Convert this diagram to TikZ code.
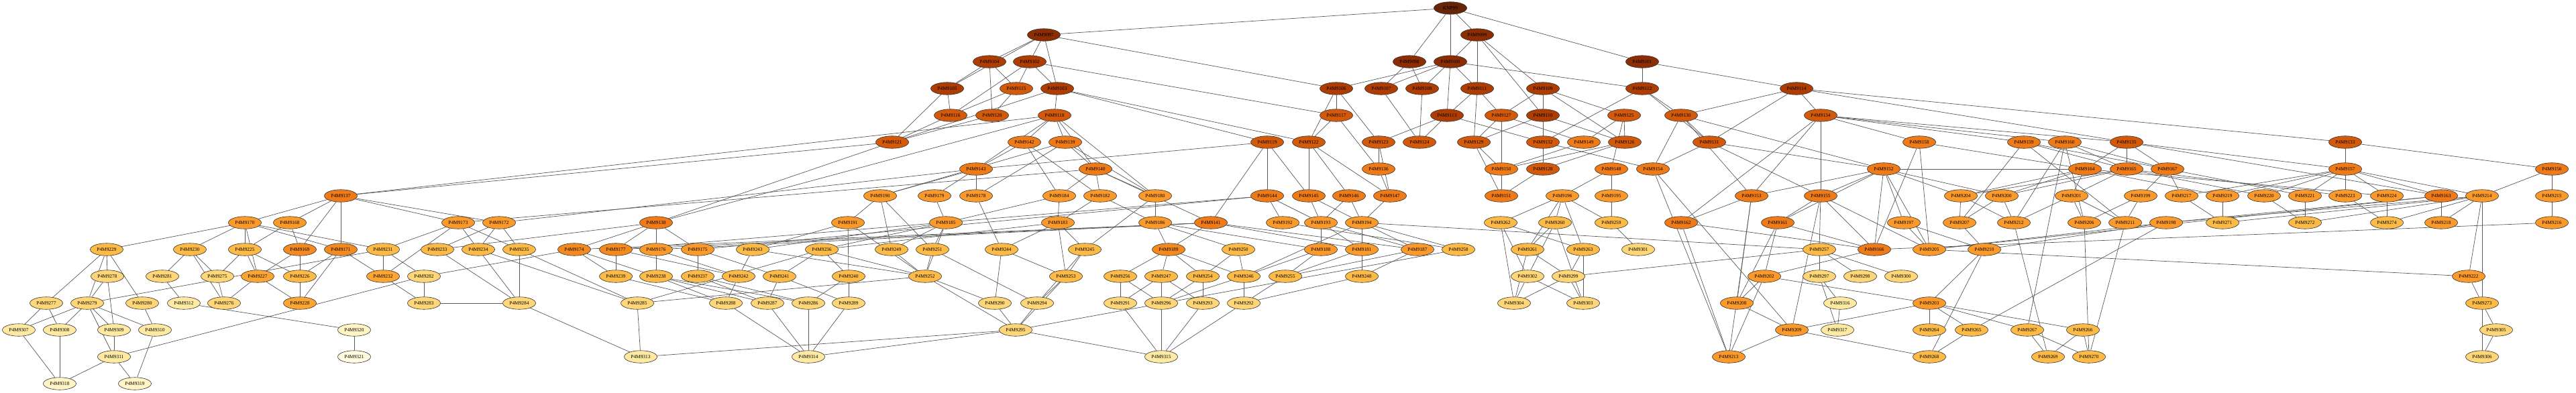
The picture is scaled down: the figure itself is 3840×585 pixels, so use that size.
\documentclass[tikz,border=0pt]{standalone}
\usepackage{fontspec}
\setmainfont{Liberation Serif}
\usepackage{tikz}
\usetikzlibrary{shapes.geometric, backgrounds}

\definecolor{c0}{HTML}{662506}
\definecolor{c1}{HTML}{8C2D04}
\definecolor{c2}{HTML}{AE3D03}
\definecolor{c3}{HTML}{D45A0B}
\definecolor{c4}{HTML}{EE7A18}
\definecolor{c5}{HTML}{FB9A2B}
\definecolor{c5d}{HTML}{F38A20}
\definecolor{c6}{HTML}{FDBA47}
\definecolor{c6d}{HTML}{FCA533}
\definecolor{c7}{HTML}{FED577}
\definecolor{c8}{HTML}{FEE9A3}
\definecolor{c9}{HTML}{FFF5C4}
\definecolor{c9l}{HTML}{FFFCDD}

\begin{document}
\begin{tikzpicture}[x=0.2mm, y=-0.2mm]
        \tikzstyle{pnode} = [ellipse, draw=black!80, line width=0.35pt, minimum width=9.8mm, minimum height=3.7mm, inner sep=0pt, font=\fontsize{4.2}{5}\selectfont]
        \tikzstyle{gen0} = [pnode, fill=c0]
        \tikzstyle{gen1} = [pnode, fill=c1]
        \tikzstyle{gen2} = [pnode, fill=c2]
        \tikzstyle{gen3} = [pnode, fill=c3]
        \tikzstyle{gen4} = [pnode, fill=c4]
        \tikzstyle{gen5} = [pnode, fill=c5]
        \tikzstyle{gen5d} = [pnode, fill=c5d]
        \tikzstyle{gen6} = [pnode, fill=c6]
        \tikzstyle{gen6d} = [pnode, fill=c6d]
        \tikzstyle{gen7} = [pnode, fill=c7]
        \tikzstyle{gen8} = [pnode, fill=c8]
        \tikzstyle{gen9} = [pnode, fill=c9]
        \tikzstyle{link} = [draw=black!65, line width=0.4pt]

        \useasboundingbox (0,0) rectangle (3840,585);

        \node (knp99) [gen0] at (2162,12) {KNP99};

        \node (p9097) [gen1] at (1556,52) {P4M9097};
        \node (p9099) [gen1] at (2202,52) {P4M9099};

        \node (p9104) [gen2] at (1475,92) {P4M9104};
        \node (p9102) [gen2] at (1535,92) {P4M9102};
        \node (p9098) [gen1] at (2101,92) {P4M9098};
        \node (p9100) [gen1] at (2162,92) {P4M9100};
        \node (p9101) [gen1] at (2448,92) {P4M9101};

        \node (p9105) [gen2] at (1412,132) {P4M9105};
        \node (p9115) [gen3] at (1515,132) {P4M9115};
        \node (p9103) [gen2] at (1576,132) {P4M9103};
        \node (p9106) [gen2] at (1992,132) {P4M9106};
        \node (p9107) [gen2] at (2059,132) {P4M9107};
        \node (p9108) [gen2] at (2120,132) {P4M9108};
        \node (p9111) [gen2] at (2202,132) {P4M9111};
        \node (p9109) [gen2] at (2300,132) {P4M9109};
        \node (p9112) [gen2] at (2448,132) {P4M9112};
        \node (p9114) [gen2] at (2678,132) {P4M9114};

        \node (p9116) [gen3] at (1417,172) {P4M9116};
        \node (p9120) [gen3] at (1479,172) {P4M9120};
        \node (p9118) [gen3] at (1572,172) {P4M9118};
        \node (p9117) [gen3] at (1992,172) {P4M9117};
        \node (p9113) [gen2] at (2157,172) {P4M9113};
        \node (p9127) [gen3] at (2238,172) {P4M9127};
        \node (p9110) [gen2] at (2300,172) {P4M9110};
        \node (p9125) [gen3] at (2421,172) {P4M9125};
        \node (p9130) [gen3] at (2506,172) {P4M9130};
        \node (p9134) [gen3] at (2714,172) {P4M9134};

        \node (p9121) [gen3] at (1330,212) {P4M9121};
        \node (p9142) [gen4] at (1527,212) {P4M9142};
        \node (p9139) [gen4] at (1588,212) {P4M9139};
        \node (p9119) [gen3] at (1889,212) {P4M9119};
        \node (p9122) [gen3] at (1951,212) {P4M9122};
        \node (p9123) [gen3] at (2055,212) {P4M9123};
        \node (p9124) [gen3] at (2116,212) {P4M9124};
        \node (p9129) [gen3] at (2197,212) {P4M9129};
        \node (p9132) [gen3] at (2300,212) {P4M9132};
        \node (p9149) [gen4] at (2361,212) {P4M9149};
        \node (p9126) [gen3] at (2422,212) {P4M9126};
        \node (p9131) [gen3] at (2548,212) {P4M9131};
        \node (p9158) [gen4] at (2861,212) {P4M9158};
        \node (p9159) [gen4] at (3017,212) {P4M9159};
        \node (p9160) [gen4] at (3078,212) {P4M9160};
        \node (p9135) [gen3] at (3170,212) {P4M9135};
        \node (p9133) [gen3] at (3496,212) {P4M9133};

        \node (p9143) [gen4] at (1455,252) {P4M9143};
        \node (p9140) [gen4] at (1633,252) {P4M9140};
        \node (p9136) [gen4] at (2055,252) {P4M9136};
        \node (p9150) [gen4] at (2238,252) {P4M9150};
        \node (p9128) [gen3] at (2300,252) {P4M9128};
        \node (p9148) [gen4] at (2402,252) {P4M9148};
        \node (p9154) [gen4] at (2464,252) {P4M9154};
        \node (p9152) [gen4] at (2808,252) {P4M9152};
        \node (p9164) [gen4] at (3108,252) {P4M9164};
        \node (p9165) [gen4] at (3170,252) {P4M9165};
        \node (p9167) [gen4] at (3231,252) {P4M9167};
        \node (p9157) [gen4] at (3496,252) {P4M9157};
        \node (p9156) [gen4] at (3804,252) {P4M9156};

        \node (p9137) [gen4] at (508,292) {P4M9137};
        \node (p9190) [gen5] at (1312,292) {P4M9190};
        \node (p9179) [gen5] at (1393,292) {P4M9179};
        \node (p9178) [gen5] at (1455,292) {P4M9178};
        \node (p9184) [gen5] at (1579,292) {P4M9184};
        \node (p9182) [gen5] at (1640,292) {P4M9182};
        \node (p9180) [gen5] at (1722,292) {P4M9180};
        \node (p9144) [gen4] at (1889,292) {P4M9144};
        \node (p9145) [gen4] at (1951,292) {P4M9145};
        \node (p9146) [gen4] at (2011,292) {P4M9146};
        \node (p9147) [gen4] at (2072,292) {P4M9147};
        \node (p9151) [gen4] at (2238,292) {P4M9151};
        \node (p9196) [gen5] at (2329,292) {P4M9196};
        \node (p9195) [gen5] at (2402,292) {P4M9195};
        \node (p9153) [gen4] at (2611,292) {P4M9153};
        \node (p9155) [gen4] at (2714,292) {P4M9155};
        \node (p9204) [gen5] at (2923,292) {P4M9204};
        \node (p9200) [gen5] at (2984,292) {P4M9200};
        \node (p9201) [gen5] at (3088,292) {P4M9201};
        \node (p9199) [gen5] at (3191,292) {P4M9199};
        \node (p9217) [gen5] at (3252,292) {P4M9217};
        \node (p9219) [gen5] at (3313,292) {P4M9219};
        \node (p9220) [gen5] at (3375,292) {P4M9220};
        \node (p9221) [gen5] at (3436,292) {P4M9221};
        \node (p9223) [gen5] at (3496,292) {P4M9223};
        \node (p9224) [gen5] at (3558,292) {P4M9224};
        \node (p9163) [gen4] at (3639,292) {P4M9163};
        \node (p9214) [gen5] at (3700,292) {P4M9214};
        \node (p9215) [gen5] at (3804,292) {P4M9215};

        \node (p9170) [gen5] at (365,332) {P4M9170};
        \node (p9168) [gen5] at (432,332) {P4M9168};
        \node (p9173) [gen5] at (683,332) {P4M9173};
        \node (p9172) [gen5] at (744,332) {P4M9172};
        \node (p9138) [gen4] at (978,332) {P4M9138};
        \node (p9191) [gen5] at (1264,332) {P4M9191};
        \node (p9185) [gen5] at (1410,332) {P4M9185};
        \node (p9183) [gen5] at (1577,332) {P4M9183};
        \node (p9186) [gen5] at (1722,332) {P4M9186};
        \node (p9141) [gen4] at (1805,332) {P4M9141};
        \node (p9192) [gen5] at (1912,332) {P4M9192};
        \node (p9193) [gen5] at (1969,332) {P4M9193};
        \node (p9194) [gen5] at (2030,332) {P4M9194};
        \node (p9262) [gen6] at (2237,332) {P4M9262};
        \node (p9260) [gen6] at (2318,332) {P4M9260};
        \node (p9259) [gen6] at (2402,332) {P4M9259};
        \node (p9162) [gen4] at (2506,332) {P4M9162};
        \node (p9161) [gen4] at (2650,332) {P4M9161};
        \node (p9197) [gen5] at (2838,332) {P4M9197};
        \node (p9207) [gen5] at (2921,332) {P4M9207};
        \node (p9212) [gen5] at (3002,332) {P4M9212};
        \node (p9206) [gen5] at (3107,332) {P4M9206};
        \node (p9211) [gen5] at (3168,332) {P4M9211};
        \node (p9198) [gen5] at (3229,332) {P4M9198};
        \node (p9271) [gen6] at (3313,332) {P4M9271};
        \node (p9272) [gen6] at (3436,332) {P4M9272};
        \node (p9274) [gen6] at (3558,332) {P4M9274};
        \node (p9218) [gen5] at (3639,332) {P4M9218};
        \node (p9216) [gen5] at (3804,332) {P4M9216};

        \node (p9229) [gen6] at (159,372) {P4M9229};
        \node (p9230) [gen6] at (283,372) {P4M9230};
        \node (p9225) [gen6] at (365,372) {P4M9225};
        \node (p9169) [gen5d] at (447,372) {P4M9169};
        \node (p9171) [gen5d] at (508,372) {P4M9171};
        \node (p9231) [gen6] at (571,372) {P4M9231};
        \node (p9233) [gen6] at (652,372) {P4M9233};
        \node (p9234) [gen6] at (713,372) {P4M9234};
        \node (p9235) [gen6] at (774,372) {P4M9235};
        \node (p9174) [gen5d] at (856,372) {P4M9174};
        \node (p9177) [gen5d] at (918,372) {P4M9177};
        \node (p9176) [gen5] at (978,372) {P4M9176};
        \node (p9175) [gen5] at (1040,372) {P4M9175};
        \node (p9243) [gen6] at (1122,372) {P4M9243};
        \node (p9236) [gen6] at (1225,372) {P4M9236};
        \node (p9249) [gen6] at (1329,372) {P4M9249};
        \node (p9251) [gen6] at (1390,372) {P4M9251};
        \node (p9244) [gen6] at (1493,372) {P4M9244};
        \node (p9245) [gen6] at (1617,372) {P4M9245};
        \node (p9189) [gen5d] at (1742,372) {P4M9189};
        \node (p9250) [gen6] at (1846,372) {P4M9250};
        \node (p9188) [gen5] at (1969,372) {P4M9188};
        \node (p9181) [gen5] at (2030,372) {P4M9181};
        \node (p9187) [gen5] at (2113,372) {P4M9187};
        \node (p9258) [gen6] at (2174,372) {P4M9258};
        \node (p9261) [gen6] at (2277,372) {P4M9261};
        \node (p9263) [gen6] at (2360,372) {P4M9263};
        \node (p9301) [gen7] at (2442,372) {P4M9301};
        \node (p9257) [gen6] at (2712,372) {P4M9257};
        \node (p9166) [gen4] at (2794,372) {P4M9166};
        \node (p9205) [gen5] at (2876,372) {P4M9205};
        \node (p9210) [gen5] at (2958,372) {P4M9210};

        \node (p9278) [gen7] at (160,412) {P4M9278};
        \node (p9281) [gen7] at (242,412) {P4M9281};
        \node (p9275) [gen7] at (324,412) {P4M9275};
        \node (p9227) [gen6d] at (384,412) {P4M9227};
        \node (p9226) [gen6] at (447,412) {P4M9226};
        \node (p9232) [gen6d] at (571,412) {P4M9232};
        \node (p9282) [gen7] at (632,412) {P4M9282};
        \node (p9239) [gen6] at (918,412) {P4M9239};
        \node (p9238) [gen6] at (978,412) {P4M9238};
        \node (p9237) [gen6] at (1040,412) {P4M9237};
        \node (p9242) [gen6] at (1101,412) {P4M9242};
        \node (p9241) [gen6] at (1162,412) {P4M9241};
        \node (p9240) [gen6] at (1265,412) {P4M9240};
        \node (p9252) [gen6] at (1379,412) {P4M9252};
        \node (p9253) [gen6] at (1589,412) {P4M9253};
        \node (p9256) [gen6] at (1670,412) {P4M9256};
        \node (p9247) [gen6] at (1731,412) {P4M9247};
        \node (p9254) [gen6] at (1793,412) {P4M9254};
        \node (p9246) [gen6] at (1854,412) {P4M9246};
        \node (p9255) [gen6] at (1916,412) {P4M9255};
        \node (p9248) [gen6] at (2030,412) {P4M9248};
        \node (p9302) [gen7] at (2277,412) {P4M9302};
        \node (p9299) [gen7] at (2338,412) {P4M9299};
        \node (p9202) [gen5] at (2630,412) {P4M9202};
        \node (p9297) [gen7] at (2712,412) {P4M9297};
        \node (p9298) [gen7] at (2773,412) {P4M9298};
        \node (p9300) [gen7] at (2834,412) {P4M9300};
        \node (p9222) [gen5] at (3680,412) {P4M9222};

        \node (p9277) [gen7] at (69,452) {P4M9277};
        \node (p9279) [gen7] at (130,452) {P4M9279};
        \node (p9280) [gen7] at (212,452) {P4M9280};
        \node (p9312) [gen8] at (274,452) {P4M9312};
        \node (p9276) [gen7] at (334,452) {P4M9276};
        \node (p9228) [gen6d] at (447,452) {P4M9228};
        \node (p9283) [gen7] at (632,452) {P4M9283};
        \node (p9284) [gen7] at (774,452) {P4M9284};
        \node (p9285) [gen7] at (950,452) {P4M9285};
        \node (p9288) [gen7] at (1082,452) {P4M9288};
        \node (p9287) [gen7] at (1144,452) {P4M9287};
        \node (p9286) [gen7] at (1205,452) {P4M9286};
        \node (p9289) [gen7] at (1265,452) {P4M9289};
        \node (p9290) [gen7] at (1483,452) {P4M9290};
        \node (p9294) [gen7] at (1546,452) {P4M9294};
        \node (p9291) [gen7] at (1670,452) {P4M9291};
        \node (p9296) [gen7] at (1731,452) {P4M9296};
        \node (p9293) [gen7] at (1793,452) {P4M9293};
        \node (p9292) [gen7] at (1854,452) {P4M9292};
        \node (p9304) [gen7] at (2257,452) {P4M9304};
        \node (p9303) [gen7] at (2360,452) {P4M9303};
        \node (p9208) [gen5] at (2589,452) {P4M9208};
        \node (p9316) [gen8] at (2743,452) {P4M9316};
        \node (p9203) [gen5] at (2876,452) {P4M9203};
        \node (p9273) [gen6] at (3700,452) {P4M9273};

        \node (p9307) [gen8] at (28,492) {P4M9307};
        \node (p9308) [gen8] at (89,492) {P4M9308};
        \node (p9309) [gen8] at (170,492) {P4M9309};
        \node (p9310) [gen8] at (231,492) {P4M9310};
        \node (p9320) [gen9] at (528,492) {P4M9320};
        \node (p9295) [gen7] at (1514,492) {P4M9295};
        \node (p9209) [gen5] at (2671,492) {P4M9209};
        \node (p9317) [gen8] at (2739,492) {P4M9317};
        \node (p9264) [gen6] at (2876,492) {P4M9264};
        \node (p9265) [gen6] at (2939,492) {P4M9265};
        \node (p9267) [gen6] at (3022,492) {P4M9267};
        \node (p9266) [gen6] at (3105,492) {P4M9266};
        \node (p9305) [gen7] at (3721,492) {P4M9305};

        \node (p9311) [gen8] at (170,532) {P4M9311};
        \node (p9321) [gen9, fill=c9l] at (528,532) {P4M9321};
        \node (p9313) [gen8] at (955,532) {P4M9313};
        \node (p9314) [gen8] at (1205,532) {P4M9314};
        \node (p9315) [gen8] at (1731,532) {P4M9315};
        \node (p9213) [gen5] at (2577,532) {P4M9213};
        \node (p9268) [gen6] at (2876,532) {P4M9268};
        \node (p9269) [gen6] at (3053,532) {P4M9269};
        \node (p9270) [gen6] at (3114,532) {P4M9270};
        \node (p9306) [gen7] at (3700,532) {P4M9306};

        \node (p9318) [gen9] at (89,572) {P4M9318};
        \node (p9319) [gen9] at (201,572) {P4M9319};

        \begin{scope}[on background layer]
        \draw [link] (knp99) edge (p9097) edge (p9098) edge (p9099) edge (p9100) edge (p9101);
        \draw [link] (p9097) edge (p9102) edge (p9104) edge (p9103) edge (p9105) edge (p9106);
        \draw [link] (p9099) edge (p9100) edge (p9109) edge (p9111) edge (p9110);
        \draw [link] (p9098) edge (p9107) edge (p9108);
        \draw [link] (p9100) edge (p9106) edge (p9107) edge (p9108) edge (p9111) edge (p9112) edge (p9113);
        \draw [link] (p9101) edge (p9112) edge (p9114);
        \draw [link] (p9102) edge (p9103) edge (p9115) edge (p9116) edge (p9117);
        \draw [link] (p9104) edge (p9105) edge (p9115) edge (p9120);
        \draw [link] (p9103) edge (p9118) edge (p9119) edge (p9122) edge (p9121);
        \draw [link] (p9105) edge (p9116) edge (p9121);
        \draw [link] (p9115) edge (p9120) edge (p9116);
        \draw [link] (p9106) edge (p9117) edge (p9122) edge (p9123);
        \draw [link] (p9107) edge (p9124);
        \draw [link] (p9108) edge (p9124);
        \draw [link] (p9111) edge (p9113) edge (p9127) edge (p9129);
        \draw [link] (p9109) edge (p9110) edge (p9125) edge (p9127) edge (p9126);
        \draw [link] (p9112) edge (p9130) edge (p9131) edge (p9132);
        \draw [link] (p9114) edge (p9130) edge (p9134) edge (p9131) edge (p9133) edge (p9135);
        \draw [link] (p9116) edge (p9121);
        \draw [link] (p9120) edge (p9121);
        \draw [link] (p9118) edge (p9139) edge (p9142) edge (p9140) edge (p9143) edge (p9180) edge (p9137) edge (p9138);
        \draw [link] (p9117) edge (p9122) edge (p9136);
        \draw [link] (p9113) edge (p9123) edge (p9124) edge (p9132);
        \draw [link] (p9110) edge (p9126) edge (p9129) edge (p9128);
        \draw [link] (p9125) edge (p9126) edge (p9149) edge (p9148);
        \draw [link] (p9127) edge (p9149) edge (p9150) edge (p9129);
        \draw [link] (p9130) edge (p9131) edge (p9152) edge (p9153) edge (p9154);
        \draw [link] (p9134) edge (p9135) edge (p9153) edge (p9155) edge (p9158) edge (p9159) edge (p9160) edge (p9162);
        \draw [link] (p9121) edge (p9137) edge (p9138);
        \draw [link] (p9119) edge (p9143) edge (p9144) edge (p9141) edge (p9145);
        \draw [link] (p9139) edge (p9140) edge (p9178) edge (p9180) edge (p9190);
        \draw [link] (p9142) edge (p9143) edge (p9182) edge (p9184);
        \draw [link] (p9122) edge (p9145) edge (p9146) edge (p9147);
        \draw [link] (p9123) edge (p9136) edge (p9147);
        \draw [link] (p9129) edge (p9150) edge (p9151);
        \draw [link] (p9132) edge (p9154);
        \draw [link] (p9126) edge (p9128) edge (p9150);
        \draw [link] (p9149) edge (p9150);
        \draw [link] (p9131) edge (p9152) edge (p9154) edge (p9155);
        \draw [link] (p9133) edge (p9156) edge (p9157);
        \draw [link] (p9135) edge (p9157) edge (p9163) edge (p9164) edge (p9165) edge (p9167);
        \draw [link] (p9158) edge (p9164) edge (p9166) edge (p9205);
        \draw [link] (p9159) edge (p9165) edge (p9167) edge (p9207) edge (p9211);
        \draw [link] (p9160) edge (p9165) edge (p9167) edge (p9212) edge (p9206) edge (p9267);
        \draw [link] (p9143) edge (p9178) edge (p9179) edge (p9190) edge (p9172);
        \draw [link] (p9140) edge (p9173) edge (p9182) edge (p9184) edge (p9180) edge (p9141);
        \draw [link] (p9136) edge (p9147);
        \draw [link] (p9150) edge (p9151);
        \draw [link] (p9128) edge (p9151);
        \draw [link] (p9148) edge (p9195) edge (p9196);
        \draw [link] (p9152) edge (p9153) edge (p9155) edge (p9161) edge (p9166) edge (p9197) edge (p9200) edge (p9204) edge (p9205) edge (p9164);
        \draw [link] (p9154) edge (p9209) edge (p9213);
        \draw [link] (p9157) edge (p9163) edge (p9214) edge (p9217) edge (p9219) edge (p9220) edge (p9221) edge (p9223) edge (p9224);
        \draw [link] (p9156) edge (p9214) edge (p9215) edge (p9216);
        \draw [link] (p9164) edge (p9200) edge (p9201) edge (p9204) edge (p9219) edge (p9224);
        \draw [link] (p9165) edge (p9200) edge (p9201) edge (p9204) edge (p9220) edge (p9223);
        \draw [link] (p9167) edge (p9199) edge (p9217) edge (p9221);
        \draw [link] (p9137) edge (p9168) edge (p9169) edge (p9170) edge (p9171) edge (p9172) edge (p9173);
        \draw [link] (p9190) edge (p9191) edge (p9249) edge (p9251);
        \draw [link] (p9179) edge (p9185);
        \draw [link] (p9178) edge (p9244);
        \draw [link] (p9184) edge (p9183) edge (p9185);
        \draw [link] (p9182) edge (p9183) edge (p9186);
        \draw [link] (p9180) edge (p9186) edge (p9245);
        \draw [link] (p9144) edge (p9192) edge (p9193) edge (p9177) edge (p9175);
        \draw [link] (p9145) edge (p9193) edge (p9194);
        \draw [link] (p9146) edge (p9193) edge (p9194);
        \draw [link] (p9147) edge (p9194);
        \draw [link] (p9196) edge (p9259) edge (p9260) edge (p9261) edge (p9262) edge (p9263);
        \draw [link] (p9195) edge (p9259);
        \draw [link] (p9153) edge (p9162) edge (p9208) edge (p9213);
        \draw [link] (p9155) edge (p9161) edge (p9166) edge (p9209) edge (p9257) edge (p9205);
        \draw [link] (p9163) edge (p9198) edge (p9218) edge (p9205);
        \draw [link] (p9214) edge (p9198) edge (p9218) edge (p9222) edge (p9271) edge (p9272) edge (p9273) edge (p9274);
        \draw [link] (p9215) edge (p9216);
        \draw [link] (p9204) edge (p9207) edge (p9212);
        \draw [link] (p9200) edge (p9207) edge (p9212);
        \draw [link] (p9201) edge (p9206) edge (p9211) edge (p9212);
        \draw [link] (p9199) edge (p9206) edge (p9211);
        \draw [link] (p9217) edge (p9271);
        \draw [link] (p9219) edge (p9271);
        \draw [link] (p9220) edge (p9272);
        \draw [link] (p9221) edge (p9272);
        \draw [link] (p9223) edge (p9274);
        \draw [link] (p9224) edge (p9274);
        \draw [link] (p9170) edge (p9171) edge (p9225) edge (p9229) edge (p9230) edge (p9231) edge (p9227);
        \draw [link] (p9168) edge (p9169) edge (p9225);
        \draw [link] (p9173) edge (p9231) edge (p9232) edge (p9234) edge (p9235);
        \draw [link] (p9172) edge (p9233) edge (p9234) edge (p9235);
        \draw [link] (p9138) edge (p9174) edge (p9175) edge (p9176) edge (p9177) edge (p9233);
        \draw [link] (p9141) edge (p9174) edge (p9177) edge (p9176) edge (p9189) edge (p9181) edge (p9187);
        \draw [link] (p9191) edge (p9243) edge (p9240) edge (p9252);
        \draw [link] (p9185) edge (p9236) edge (p9243) edge (p9249) edge (p9251) edge (p9252);
        \draw [link] (p9183) edge (p9244) edge (p9245) edge (p9253) edge (p9236);
        \draw [link] (p9186) edge (p9189) edge (p9250) edge (p9188);
        \draw [link] (p9192) edge (p9258);
        \draw [link] (p9193) edge (p9188) edge (p9187) edge (p9181);
        \draw [link] (p9194) edge (p9181) edge (p9187) edge (p9258) edge (p9257) edge (p9246);
        \draw [link] (p9162) edge (p9166) edge (p9213);
        \draw [link] (p9161) edge (p9166) edge (p9208) edge (p9202);
        \draw [link] (p9197) edge (p9205) edge (p9210);
        \draw [link] (p9260) edge (p9261) edge (p9302) edge (p9303);
        \draw [link] (p9262) edge (p9263) edge (p9302) edge (p9304);
        \draw [link] (p9259) edge (p9301);
        \draw [link] (p9198) edge (p9205) edge (p9210) edge (p9265);
        \draw [link] (p9207) edge (p9210);
        \draw [link] (p9169) edge (p9227) edge (p9228);
        \draw [link] (p9171) edge (p9226) edge (p9228) edge (p9232);
        \draw [link] (p9225) edge (p9226) edge (p9227) edge (p9275);
        \draw [link] (p9229) edge (p9277) edge (p9278) edge (p9279) edge (p9280);
        \draw [link] (p9230) edge (p9275) edge (p9276) edge (p9281);
        \draw [link] (p9231) edge (p9232) edge (p9282) edge (p9279);
        \draw [link] (p9174) edge (p9239) edge (p9238) edge (p9282);
        \draw [link] (p9177) edge (p9239) edge (p9242);
        \draw [link] (p9176) edge (p9238) edge (p9242);
        \draw [link] (p9175) edge (p9237) edge (p9241);
        \draw [link] (p9236) edge (p9240) edge (p9241) edge (p9252) edge (p9285);
        \draw [link] (p9243) edge (p9242) edge (p9252);
        \draw [link] (p9249) edge (p9252);
        \draw [link] (p9251) edge (p9252) edge (p9294);
        \draw [link] (p9244) edge (p9253) edge (p9290);
        \draw [link] (p9245) edge (p9253) edge (p9294);
        \draw [link] (p9189) edge (p9246) edge (p9247) edge (p9254) edge (p9256);
        \draw [link] (p9250) edge (p9254) edge (p9246);
        \draw [link] (p9188) edge (p9255) edge (p9246);
        \draw [link] (p9181) edge (p9248) edge (p9255);
        \draw [link] (p9187) edge (p9248) edge (p9255);
        \draw [link] (p9258) edge (p9295);
        \draw [link] (p9261) edge (p9299) edge (p9304);
        \draw [link] (p9263) edge (p9299) edge (p9303);
        \draw [link] (p9257) edge (p9297) edge (p9298) edge (p9300) edge (p9299);
        \draw [link] (p9166) edge (p9202) edge (p9216);
        \draw [link] (p9205) edge (p9222);
        \draw [link] (p9202) edge (p9203) edge (p9208) edge (p9213);
        \draw [link] (p9210) edge (p9203) edge (p9268);
        \draw [link] (p9222) edge (p9273);
        \draw [link] (p9227) edge (p9228) edge (p9276);
        \draw [link] (p9226) edge (p9228);
        \draw [link] (p9232) edge (p9283);
        \draw [link] (p9282) edge (p9283) edge (p9311);
        \draw [link] (p9275) edge (p9276);
        \draw [link] (p9278) edge (p9279) edge (p9309);
        \draw [link] (p9233) edge (p9284);
        \draw [link] (p9234) edge (p9284) edge (p9285);
        \draw [link] (p9235) edge (p9284) edge (p9285);
        \draw [link] (p9239) edge (p9288);
        \draw [link] (p9238) edge (p9288) edge (p9286) edge (p9287);
        \draw [link] (p9237) edge (p9287) edge (p9286);
        \draw [link] (p9242) edge (p9288);
        \draw [link] (p9241) edge (p9287) edge (p9289);
        \draw [link] (p9240) edge (p9286) edge (p9289);
        \draw [link] (p9252) edge (p9290) edge (p9295) edge (p9285);
        \draw [link] (p9253) edge (p9294) edge (p9295);
        \draw [link] (p9256) edge (p9291) edge (p9296);
        \draw [link] (p9247) edge (p9291) edge (p9296) edge (p9293);
        \draw [link] (p9254) edge (p9293) edge (p9296);
        \draw [link] (p9246) edge (p9292) edge (p9296);
        \draw [link] (p9255) edge (p9292);
        \draw [link] (p9248) edge (p9292);
        \draw [link] (p9302) edge (p9303) edge (p9304);
        \draw [link] (p9299) edge (p9303) edge (p9304);
        \draw [link] (p9297) edge (p9316) edge (p9317);
        \draw [link] (p9203) edge (p9209) edge (p9264) edge (p9265) edge (p9266) edge (p9267);
        \draw [link] (p9208) edge (p9209);
        \draw [link] (p9273) edge (p9305) edge (p9306);
        \draw [link] (p9277) edge (p9307) edge (p9308);
        \draw [link] (p9279) edge (p9307) edge (p9308) edge (p9309) edge (p9310) edge (p9311);
        \draw [link] (p9280) edge (p9310);
        \draw [link] (p9281) edge (p9312);
        \draw [link] (p9283) edge (p9284);
        \draw [link] (p9284) edge (p9313);
        \draw [link] (p9285) edge (p9313);
        \draw [link] (p9288) edge (p9314);
        \draw [link] (p9287) edge (p9314);
        \draw [link] (p9286) edge (p9314);
        \draw [link] (p9289) edge (p9314);
        \draw [link] (p9290) edge (p9295);
        \draw [link] (p9294) edge (p9295);
        \draw [link] (p9291) edge (p9315);
        \draw [link] (p9296) edge (p9315);
        \draw [link] (p9293) edge (p9315);
        \draw [link] (p9292) edge (p9315);
        \draw [link] (p9312) edge (p9320);
        \draw [link] (p9316) edge (p9317);
        \draw [link] (p9209) edge (p9213) edge (p9268);
        \draw [link] (p9265) edge (p9268);
        \draw [link] (p9267) edge (p9269) edge (p9270);
        \draw [link] (p9266) edge (p9269) edge (p9270);
        \draw [link] (p9212) edge (p9269);
        \draw [link] (p9206) edge (p9270);
        \draw [link] (p9211) edge (p9270);
        \draw [link] (p9305) edge (p9306);
        \draw [link] (p9309) edge (p9311);
        \draw [link] (p9295) edge (p9313) edge (p9314) edge (p9315);
        \draw [link] (p9320) edge (p9321);
        \draw [link] (p9307) edge (p9318);
        \draw [link] (p9308) edge (p9318);
        \draw [link] (p9311) edge (p9318) edge (p9319);
        \draw [link] (p9310) edge (p9319);
        \end{scope}
    \end{tikzpicture}
\end{document}
